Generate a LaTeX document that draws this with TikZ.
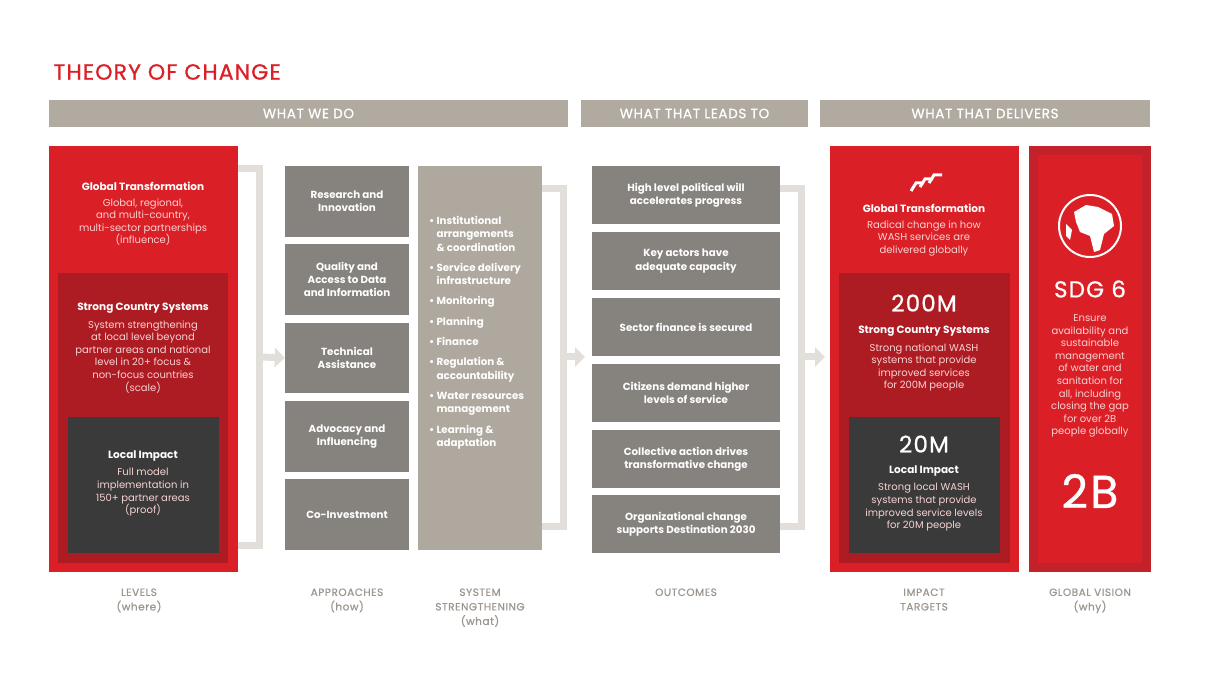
\documentclass[tikz,border=0pt]{standalone}
\usepackage{fontspec}
\setmainfont{Poppins}
\newfontfamily\wide{Poppins}[LetterSpace=5,FakeBold=0.8]
\usetikzlibrary{arrows.meta}
\definecolor{tocred}{HTML}{DA1F26}
\definecolor{tocmid}{HTML}{AE1C23}
\definecolor{tocdark}{HTML}{3A3A3A}
\definecolor{tocbar}{HTML}{B0AAA1}
\definecolor{tocgrey}{HTML}{86827D}
\definecolor{tocsand}{HTML}{AEA89E}
\definecolor{tocline}{HTML}{E2DEDA}
\definecolor{toclabel}{HTML}{9C968F}
\definecolor{tocpink}{HTML}{F7D2D2}
\definecolor{tocvis}{HTML}{C4222A}
\tikzset{
  head/.style = {fill=tocbar, text=white, inner sep=0, minimum height=27pt, font=\wide\fontsize{13.5}{15}\selectfont},
  panel/.style = {inner sep=0, anchor=north west},
  grey/.style = {fill=tocgrey, text=white, inner sep=0, minimum width=124pt, align=center, font=\fontsize{10.3}{13.3}\bfseries\selectfont},
  outc/.style = {fill=tocgrey, text=white, inner sep=0, minimum width=188pt, minimum height=58pt, align=center, font=\fontsize{10.3}{13.3}\bfseries\selectfont},
  body/.style = {text=tocpink, align=center, font=\fontsize{10}{12.6}\selectfont},
  bhead/.style = {text=white, font=\fontsize{10.5}{12.6}\bfseries\selectfont},
  big/.style = {text=white, font=\wide\fontsize{23}{25}\selectfont},
  foot/.style = {text=toclabel, align=center, font=\wide\fontsize{10.5}{14.5}\selectfont},
  bracket/.style = {draw=tocline, line width=7pt},
  flow/.style = {draw=tocline, line width=7pt, -{Triangle[width=19pt,length=10pt]}}
}
\begin{document}
\begin{tikzpicture}[x=1pt,y=-1pt]
\useasboundingbox (0,0) rectangle (1216,684);

\node[anchor=west, text=tocred, font=\wide\fontsize{22}{24}\selectfont] (title) at (50,72) {THEORY OF CHANGE};

% headers
\node[head, minimum width=519pt] (h1) at (308.5,113.5) {WHAT WE DO};
\node[head, minimum width=227pt] (h2) at (694.5,113.5) {WHAT THAT LEADS TO};
\node[head, minimum width=330pt] (h3) at (985,113.5) {WHAT THAT DELIVERS};

% levels
\fill[tocred] (49,146) rectangle (238,572);
\fill[tocmid] (58,273) rectangle (228,563);
\fill[tocdark] (68,417) rectangle (219,553);
\node[bhead] (lvg) at (143,186) {Global Transformation};
\node[body, anchor=north] (lvgt) at (143,195) {Global, regional,\\and multi-country,\\multi-sector partnerships\\(influence)};
\node[bhead] (lvc) at (143,308) {Strong Country Systems};
\node[body, anchor=north] (lvct) at (143,317) {System strengthening\\at local level beyond\\partner areas and national\\level in 20+ focus \&\\non-focus countries\\(scale)};
\node[bhead] (lvl) at (143,456) {Local Impact};
\node[body, anchor=north] (lvlt) at (143,465) {Full model\\implementation in\\150+ partner areas\\(proof)};

% approaches
\node[grey, minimum height=71pt] (a1) at (347,201.5) {Research and\\Innovation};
\node[grey, minimum height=71pt] (a2) at (347,279.5) {Quality and\\Access to Data\\and Information};
\node[grey, minimum height=70pt] (a3) at (347,358) {Technical\\Assistance};
\node[grey, minimum height=71pt] (a4) at (347,436.5) {Advocacy and\\Influencing};
\node[grey, minimum height=71pt] (a5) at (347,514.5) {Co-Investment};

% system strengthening
\fill[tocsand] (418,166) rectangle (542,550);
\node[panel, text=white, align=left, font=\fontsize{10.3}{13.3}\bfseries\selectfont] (ss) at (429,216) {%
\textbullet\ Institutional\\\phantom{\textbullet\ }arrangements\\\phantom{\textbullet\ }\& coordination\\[7pt]
\textbullet\ Service delivery\\\phantom{\textbullet\ }infrastructure\\[7pt]
\textbullet\ Monitoring\\[7pt]
\textbullet\ Planning\\[7pt]
\textbullet\ Finance\\[7pt]
\textbullet\ Regulation \&\\\phantom{\textbullet\ }accountability\\[7pt]
\textbullet\ Water resources\\\phantom{\textbullet\ }management\\[7pt]
\textbullet\ Learning \&\\\phantom{\textbullet\ }adaptation};

% outcomes
\node[outc] (o1) at (686,195) {High level political will\\accelerates progress};
\node[outc] (o2) at (686,261) {Key actors have\\adequate capacity};
\node[outc] (o3) at (686,327) {Sector finance is secured};
\node[outc] (o4) at (686,393) {Citizens demand higher\\levels of service};
\node[outc] (o5) at (686,459) {Collective action drives\\transformative change};
\node[outc] (o6) at (686,524) {Organizational change\\supports Destination 2030};

% brackets
\coordinate (b1t) at (238,169); \coordinate (b1b) at (238,545); \coordinate (b1m) at (263,357);
\coordinate (b2t) at (542,189); \coordinate (b2b) at (542,526); \coordinate (b2m) at (567,357);
\coordinate (b3t) at (780,189); \coordinate (b3b) at (780,526); \coordinate (b3m) at (805,357);
\draw[bracket] (b1t) -| (259.5,545) -- (b1b);
\draw[bracket] (b2t) -| (563.5,526) -- (b2b);
\draw[bracket] (b3t) -| (801.5,526) -- (b3b);
\draw[flow] (b1m) -- (a3.west);
\draw[flow] (b2m) -- ++(18,0) coordinate (b2e);
\draw[flow] (b3m) -- ++(20,0) coordinate (b3e);

% impact targets
\fill[tocred] (830,146) rectangle (1019,572);
\fill[tocmid] (839,273) rectangle (1010,563);
\fill[tocdark] (849,417) rectangle (1000,553);
\foreach \i in {0,1,2}
  \draw[white, line width=3pt] (911+\i*9, 191-4*\i) -- ++(5,-8) -- ++(8,0);
\node[bhead] (itg) at (924,208) {Global Transformation};
\node[body, anchor=north] (itgt) at (924,217) {Radical change in how\\WASH services are\\delivered globally};
\node[big] (n200) at (924,303) {200M};
\node[bhead] (itc) at (924,331) {Strong Country Systems};
\node[body, anchor=north] (itct) at (924,340) {Strong national WASH\\systems that provide\\improved services\\for 200M people};
\node[big] (n20) at (924,444) {20M};
\node[bhead] (itl) at (924,471) {Local Impact};
\node[body, anchor=north] (itlt) at (924,480) {Strong local WASH\\systems that provide\\improved service levels\\for 20M people};

% global vision
\fill[tocvis] (1029,146) rectangle (1151,572);
\fill[tocred] (1038,155) rectangle (1142,563);
\draw[white, line width=2pt] (1090,226) circle (31);
\fill[white] (1074,212) -- (1086,205) -- (1098,207) -- (1112,214) -- (1114,226) -- (1104,234) -- (1100,250) -- (1094,252) -- (1090,236) -- (1080,232) -- (1076,222) -- cycle;
\fill[white] (1066,224) -- (1072,230) -- (1070,240) -- (1066,236) -- cycle;
\node[big] (sdg) at (1090,289) {SDG 6};
\node[body, anchor=north] (sdgt) at (1090,311) {Ensure\\availability and\\sustainable\\management\\of water and\\sanitation for\\all, including\\closing the gap\\for over 2B\\people globally};
\node[big, font=\wide\fontsize{46}{48}\selectfont] (n2b) at (1090,491) {2B};

% footer
\node[foot, anchor=north] (f1) at (139,585) {LEVELS\\(where)};
\node[foot, anchor=north] (f2) at (347,585) {APPROACHES\\(how)};
\node[foot, anchor=north] (f3) at (480,585) {SYSTEM\\STRENGTHENING\\(what)};
\node[foot, anchor=north] (f4) at (686,585) {OUTCOMES};
\node[foot, anchor=north] (f5) at (924,585) {IMPACT\\TARGETS};
\node[foot, anchor=north] (f6) at (1090,585) {GLOBAL VISION\\(why)};
\end{tikzpicture}
\end{document}
